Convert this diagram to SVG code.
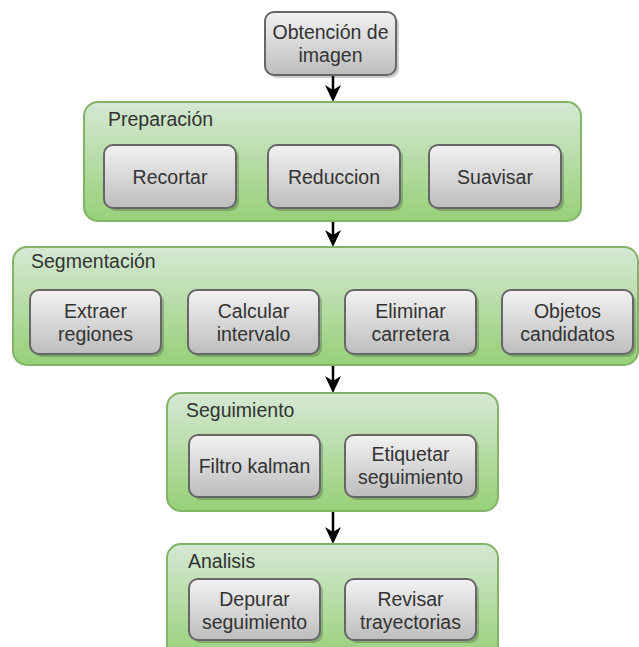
<svg xmlns="http://www.w3.org/2000/svg" width="639" height="647" viewBox="0 0 639 647">
<defs>
<linearGradient id="gGray" x1="0" y1="0" x2="0" y2="1">
<stop offset="0" stop-color="#f2f2f2"/>
<stop offset="1" stop-color="#bdbdbd"/>
</linearGradient>
<linearGradient id="gGreen" x1="0" y1="0" x2="0" y2="1">
<stop offset="0" stop-color="#d5e8d4"/>
<stop offset="1" stop-color="#97d077"/>
</linearGradient>
<path id="head" d="M-8,-17 L0,0 L8,-17 L0,-12 Z"/>
</defs>
<style>
.grp{fill:url(#gGreen);stroke:#82b366;stroke-width:2}
.box{fill:url(#gGray);stroke:#666666;stroke-width:2}
.sh{fill:#000;opacity:0.2}
.t{font-family:"Liberation Sans",Arial,sans-serif;font-size:19.5px;fill:#333333;text-anchor:middle}
.h{font-family:"Liberation Sans",Arial,sans-serif;font-size:19.5px;fill:#333333}
.con{stroke:#000;stroke-width:2.5;fill:none}
.hd{fill:#000}
</style>
<rect width="639" height="647" fill="#ffffff"/>

<g id="connectors">
<line class="con" x1="333" y1="76" x2="333" y2="92"/>
<use href="#head" class="hd" x="333" y="102"/>
<line class="con" x1="333" y1="221" x2="333" y2="237"/>
<use href="#head" class="hd" x="333" y="247"/>
<line class="con" x1="333" y1="365" x2="333" y2="383"/>
<use href="#head" class="hd" x="333" y="393"/>
<line class="con" x1="333" y1="511" x2="333" y2="534"/>
<use href="#head" class="hd" x="333" y="544"/>
</g>

<g id="obtencion">
<rect class="sh" x="268" y="15" width="131" height="63" rx="9"/>
<rect class="box" x="265" y="12" width="131" height="63" rx="9"/>
<text class="t" x="330.5" y="39">Obtención de</text>
<text class="t" x="330.5" y="62">imagen</text>
</g>

<g id="preparacion">
<rect class="grp" x="84" y="102" width="497" height="119" rx="14"/>
<text class="h" x="108" y="126">Preparación</text>
</g>
<g id="recortar">
<rect class="sh" x="107" y="148" width="132" height="63" rx="9"/>
<rect class="box" x="104" y="145" width="132" height="63" rx="9"/>
<text class="t" x="170" y="184">Recortar</text>
</g>
<g id="reduccion">
<rect class="sh" x="271" y="148" width="132" height="63" rx="9"/>
<rect class="box" x="268" y="145" width="132" height="63" rx="9"/>
<text class="t" x="334" y="184">Reduccion</text>
</g>
<g id="suavisar">
<rect class="sh" x="432" y="148" width="132" height="63" rx="9"/>
<rect class="box" x="429" y="145" width="132" height="63" rx="9"/>
<text class="t" x="495" y="184">Suavisar</text>
</g>

<g id="segmentacion">
<rect class="grp" x="13" y="247" width="625" height="118" rx="14"/>
<text class="h" x="31" y="268">Segmentación</text>
</g>
<g id="extraer">
<rect class="sh" x="33" y="293" width="131" height="64" rx="9"/>
<rect class="box" x="30" y="290" width="131" height="64" rx="9"/>
<text class="t" x="95.5" y="318">Extraer</text>
<text class="t" x="95.5" y="341">regiones</text>
</g>
<g id="calcular">
<rect class="sh" x="191" y="293" width="131" height="64" rx="9"/>
<rect class="box" x="188" y="290" width="131" height="64" rx="9"/>
<text class="t" x="253.5" y="318">Calcular</text>
<text class="t" x="253.5" y="341">intervalo</text>
</g>
<g id="eliminar">
<rect class="sh" x="348" y="293" width="131" height="64" rx="9"/>
<rect class="box" x="345" y="290" width="131" height="64" rx="9"/>
<text class="t" x="410.5" y="318">Eliminar</text>
<text class="t" x="410.5" y="341">carretera</text>
</g>
<g id="objetos">
<rect class="sh" x="505" y="293" width="131" height="64" rx="9"/>
<rect class="box" x="502" y="290" width="131" height="64" rx="9"/>
<text class="t" x="567.5" y="318">Objetos</text>
<text class="t" x="567.5" y="341">candidatos</text>
</g>

<g id="seguimiento">
<rect class="grp" x="167" y="393" width="331" height="118" rx="14"/>
<text class="h" x="186" y="417">Seguimiento</text>
</g>
<g id="filtro">
<rect class="sh" x="192" y="438" width="131" height="62" rx="9"/>
<rect class="box" x="189" y="435" width="131" height="62" rx="9"/>
<text class="t" x="254.5" y="473">Filtro kalman</text>
</g>
<g id="etiquetar">
<rect class="sh" x="348" y="438" width="131" height="62" rx="9"/>
<rect class="box" x="345" y="435" width="131" height="62" rx="9"/>
<text class="t" x="410.5" y="461">Etiquetar</text>
<text class="t" x="410.5" y="484">seguimiento</text>
</g>

<g id="analisis">
<rect class="grp" x="167" y="544" width="331" height="118" rx="14"/>
<text class="h" x="188" y="568">Analisis</text>
</g>
<g id="depurar">
<rect class="sh" x="192" y="582" width="131" height="61" rx="9"/>
<rect class="box" x="189" y="579" width="131" height="61" rx="9"/>
<text class="t" x="254.5" y="606">Depurar</text>
<text class="t" x="254.5" y="629">seguimiento</text>
</g>
<g id="revisar">
<rect class="sh" x="348" y="582" width="131" height="61" rx="9"/>
<rect class="box" x="345" y="579" width="131" height="61" rx="9"/>
<text class="t" x="410.5" y="606">Revisar</text>
<text class="t" x="410.5" y="629">trayectorias</text>
</g>
</svg>
